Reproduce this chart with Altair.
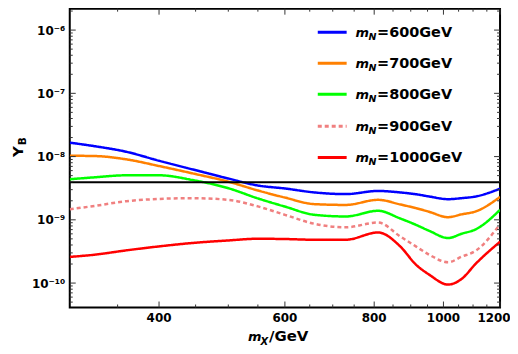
import altair as alt
import pandas as pd

# ---- data ----
mx = [300, 325, 360, 400, 445, 500, 550, 600, 660, 730, 810, 870, 915, 955, 1015, 1060, 1110, 1200]
series_names = ["600", "700", "800", "900", "1000"]
y600 = [1.66e-8, 1.46e-8, 1.19e-8, 8.59e-9, 6.29e-9, 4.50e-9, 3.49e-9, 3.13e-9, 2.71e-9, 2.55e-9,
        2.86e-9, 2.71e-9, 2.54e-9, 2.34e-9, 2.12e-9, 2.20e-9, 2.34e-9, 3.11e-9]
y700 = [1.03e-8, 1.02e-8, 9.04e-9, 7.09e-9, 5.44e-9, 4.01e-9, 2.91e-9, 2.25e-9, 1.77e-9, 1.72e-9,
        2.07e-9, 1.75e-9, 1.53e-9, 1.34e-9, 1.10e-9, 1.22e-9, 1.36e-9, 2.30e-9]
y800 = [4.38e-9, 4.70e-9, 5.06e-9, 5.06e-9, 4.27e-9, 3.16e-9, 2.18e-9, 1.62e-9, 1.20e-9, 1.13e-9,
        1.39e-9, 1.05e-9, 8.34e-10, 6.71e-10, 5.15e-10, 6.02e-10, 7.09e-10, 1.44e-9]
y900 = [1.47e-9, 1.66e-9, 1.97e-9, 2.14e-9, 2.20e-9, 2.07e-9, 1.63e-9, 1.20e-9, 8.65e-10, 7.62e-10,
        9.07e-10, 5.46e-10, 3.80e-10, 2.81e-10, 2.13e-10, 2.61e-10, 3.25e-10, 8.49e-10]
y1000 = [2.59e-10, 2.81e-10, 3.29e-10, 3.80e-10, 4.30e-10, 4.72e-10, 5.02e-10, 4.97e-10, 4.84e-10, 4.84e-10,
         6.31e-10, 3.80e-10, 1.96e-10, 1.36e-10, 9.47e-11, 1.16e-10, 2.03e-10, 4.50e-10]
threshold = 3.93e-9
colors = ["#0000FF", "#FF8000", "#00FF00", "#F08080", "#FF0000"]
dashes = [[1, 0], [1, 0], [1, 0], [4, 3], [1, 0]]
x_major = [400, 600, 800, 1000, 1200]
x_labels = ["400", "600", "800", "1000", "1200"]
x_minor = [350, 450, 500, 550, 650, 700, 750, 850, 900, 950, 1050, 1100, 1150]
y_major = [1e-10, 1e-9, 1e-8, 1e-7, 1e-6]
y_minor = [k * 10.0 ** n for n in range(-11, -5) for k in range(2, 10)
           if 4.11e-11 <= k * 10.0 ** n <= 2.18e-6]

all_y = [y600, y700, y800, y900, y1000]
rows = []
for name, ys in zip(series_names, all_y):
    for x, y in zip(mx, ys):
        rows.append({"mx": x, "yb": y, "series": name})
df = pd.DataFrame(rows)

FONT = "DejaVu Sans"
SUP = {"-": "\u207b", "0": "\u2070", "1": "\u00b9", "6": "\u2076", "7": "\u2077", "8": "\u2078", "9": "\u2079"}

ylab = ""
for n in range(-10, -5):
    sup = "".join(SUP[c] for c in str(n))
    ylab += f"abs(datum.value*1e{-n} - 1) < 0.001 ? '10{sup}' : "
ylab += "''"

common_axis = dict(ticks=False, tickSize=0, domain=False, grid=False,
                   labelFont=FONT, labelFontSize=12, labelFontWeight="bold",
                   labelColor="black", labelOverlap=False, labelBound=False,
                   labelFlush=False, title="")

x_axis = alt.Axis(values=x_major, orient="bottom", labels=False, **common_axis)
y_axis = alt.Axis(values=y_major, orient="left", labelExpr=ylab, labelPadding=5, **common_axis)

xscale = alt.Scale(type="log", domain=[300, 1200], nice=False)
yscale = alt.Scale(type="log", domain=[4.11e-11, 2.18e-6], nice=False)

W, H = 432, 300

lines = alt.Chart(df).mark_line(strokeWidth=2.5, interpolate="monotone", clip=True).encode(
    x=alt.X("mx:Q", scale=xscale, axis=x_axis),
    y=alt.Y("yb:Q", scale=yscale, axis=y_axis),
    color=alt.Color("series:N", scale=alt.Scale(domain=series_names, range=colors), legend=None),
    strokeDash=alt.StrokeDash("series:N", scale=alt.Scale(domain=series_names, range=dashes), legend=None),
)

hline = alt.Chart(pd.DataFrame({"yb": [threshold]})).mark_rule(color="black", strokeWidth=2).encode(
    y=alt.Y("yb:Q", scale=yscale, axis=y_axis)
)

layers = [lines, hline]

# inward frame ticks on all four sides
TICK = dict(color="#333333", strokeWidth=1)
for vals, ln in ((y_major, 6), (y_minor, 3)):
    d = pd.DataFrame({"yb": vals})
    layers.append(alt.Chart(d).mark_rule(**TICK).encode(
        y=alt.Y("yb:Q", scale=yscale, axis=y_axis), x=alt.value(0), x2=alt.value(ln)))
    layers.append(alt.Chart(d).mark_rule(**TICK).encode(
        y=alt.Y("yb:Q", scale=yscale, axis=y_axis), x=alt.value(W), x2=alt.value(W - ln)))
for vals, ln in ((x_major, 6), (x_minor, 3)):
    d = pd.DataFrame({"mx": vals})
    layers.append(alt.Chart(d).mark_rule(**TICK).encode(
        x=alt.X("mx:Q", scale=xscale, axis=x_axis), y=alt.value(H), y2=alt.value(H - ln)))
    layers.append(alt.Chart(d).mark_rule(**TICK).encode(
        x=alt.X("mx:Q", scale=xscale, axis=x_axis), y=alt.value(0), y2=alt.value(ln)))

# x tick labels (the last one is pulled inward as in the reference)
xl = pd.DataFrame({"mx": x_major, "lab": x_labels})
for sub, dx in ((xl.iloc[:-1], 0), (xl.iloc[-1:], -6)):
    layers.append(alt.Chart(sub).mark_text(font=FONT, fontSize=12, fontWeight="bold", color="black",
                                           align="center", baseline="top", dx=dx).encode(
        x=alt.X("mx:Q", scale=xscale, axis=x_axis), y=alt.value(H + 6), text="lab:N"))

one = pd.DataFrame({"t": [0]})

# legend (manual, to allow italic m with subscript N)
OX, OY = 70, 8  # plot origin in page pixels
row_y = [31.7, 62.7, 94.0, 126.0, 157.3]
for name, c, d, ry in zip(series_names, colors, dashes, row_y):
    y0 = ry - OY
    layers.append(alt.Chart(one).mark_rule(color=c, strokeWidth=3, strokeDash=d).encode(
        x=alt.value(319 - OX), x2=alt.value(348 - OX), y=alt.value(y0)))
    layers.append(alt.Chart(one).mark_text(text="m", font=FONT, fontSize=13, fontStyle="italic",
                                           fontWeight="bold", align="left", baseline="alphabetic",
                                           color="black").encode(
        x=alt.value(357 - OX), y=alt.value(y0 + 5)))
    layers.append(alt.Chart(one).mark_text(text="N", font=FONT, fontSize=9.5, fontStyle="italic",
                                           fontWeight="bold", align="left", baseline="alphabetic",
                                           color="black").encode(
        x=alt.value(370 - OX), y=alt.value(y0 + 8)))
    layers.append(alt.Chart(one).mark_text(text=f"={name}GeV", font=FONT, fontSize=14.5,
                                           fontWeight="bold", align="left", baseline="alphabetic",
                                           color="black").encode(
        x=alt.value(378.5 - OX), y=alt.value(y0 + 5)))

# x title: m_X / GeV
layers.append(alt.Chart(one).mark_text(text="m", font=FONT, fontSize=13, fontStyle="italic",
                                       fontWeight="bold", align="left", baseline="alphabetic",
                                       color="black").encode(x=alt.value(249 - OX), y=alt.value(341.5 - OY)))
layers.append(alt.Chart(one).mark_text(text="X", font=FONT, fontSize=10, fontStyle="italic",
                                       fontWeight="bold", align="left", baseline="alphabetic",
                                       color="black").encode(x=alt.value(261.5 - OX), y=alt.value(345.5 - OY)))
layers.append(alt.Chart(one).mark_text(text="/GeV", font=FONT, fontSize=15,
                                       fontWeight="bold", align="left", baseline="alphabetic",
                                       color="black").encode(x=alt.value(270 - OX), y=alt.value(341.5 - OY)))

# y title: Y_B (rotated)
layers.append(alt.Chart(one).mark_text(text="Y", font=FONT, fontSize=15, fontWeight="bold",
                                       align="left", baseline="alphabetic", angle=270,
                                       color="black").encode(x=alt.value(23 - OX), y=alt.value(157 - OY)))
layers.append(alt.Chart(one).mark_text(text="B", font=FONT, fontSize=10.5, fontWeight="bold",
                                       align="left", baseline="alphabetic", angle=270,
                                       color="black").encode(x=alt.value(26 - OX), y=alt.value(145 - OY)))

chart = alt.layer(*layers).properties(
    width=W, height=H,
    padding={"left": 62, "top": 0, "right": 10, "bottom": 44},
    autosize=alt.AutoSizeParams(type="none"),
    background="white",
).configure_view(stroke="black", strokeWidth=2)

chart.save("out.html", embed_options={"renderer": "svg", "actions": False})
